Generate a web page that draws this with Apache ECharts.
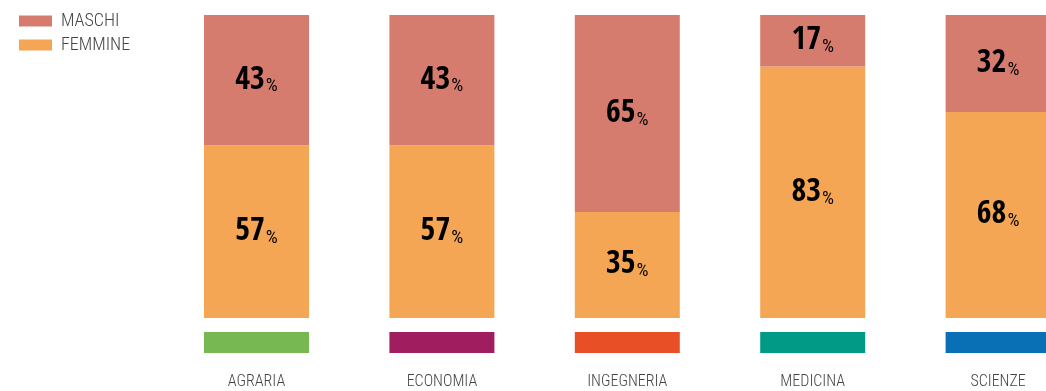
<!DOCTYPE html>
<html>
<head>
<meta charset="utf-8">
<script src="https://cdn.jsdelivr.net/npm/echarts@6/dist/echarts.min.js"></script>
<style>
  html, body { margin: 0; padding: 0; background: #fff; }
  #chart { width: 1046px; height: 391px; }
</style>
</head>
<body>
<div id="chart"></div>
<script>
// Share of students by gender in each school (percent)
const categories = ['AGRARIA', 'ECONOMIA', 'INGEGNERIA', 'MEDICINA', 'SCIENZE'];
const maschi = [43, 43, 65, 17, 32];
const femmine = [57, 57, 35, 83, 68];
const schoolColors = ['#77b852', '#a01d5f', '#e84f27', '#009a87', '#0a70b6'];

const NUM_FONT = "'Open Sans Condensed', 'Roboto Condensed', sans-serif";
const TXT_FONT = "'Roboto Condensed', 'Open Sans Condensed', sans-serif";
const COL_M = '#d67c6e';
const COL_F = '#f5a654';

const pctLabel = {
  show: true,
  position: 'inside',
  formatter: p => '{n|' + p.value + '}{p|%}',
  rich: {
    n: { fontFamily: NUM_FONT, fontWeight: 'bold', fontSize: 32, color: '#000', verticalAlign: 'bottom', lineHeight: 32 },
    p: { fontFamily: TXT_FONT, fontWeight: 'normal', fontSize: 19, color: '#000', verticalAlign: 'bottom', lineHeight: 27, padding: [0, 0, 0, 1] }
  }
};

const chart = echarts.init(document.getElementById('chart'));
chart.setOption({
  animation: false,
  legend: {
    data: ['MASCHI', 'FEMMINE'],
    orient: 'vertical',
    left: 14,
    top: 7,
    itemWidth: 33,
    itemHeight: 11,
    itemGap: 6,
    icon: 'rect',
    textStyle: { fontFamily: TXT_FONT, fontWeight: 300, fontSize: 18, color: '#444', padding: [0, 0, 0, 4] }
  },
  grid: [
    { left: 163.8, width: 927, top: 15, bottom: 73, outerBoundsMode: 'none' },
    { left: 163.8, width: 927, top: 332, height: 21, outerBoundsMode: 'none' }
  ],
  xAxis: [
    {
      type: 'category', gridIndex: 0, data: categories,
      axisLine: { show: false }, axisTick: { show: false }, axisLabel: { show: false }
    },
    {
      type: 'category', gridIndex: 1, data: categories,
      axisLine: { show: false }, axisTick: { show: false },
      axisLabel: { fontFamily: TXT_FONT, fontWeight: 300, fontSize: 16, color: '#444', margin: 21 }
    }
  ],
  yAxis: [
    { type: 'value', gridIndex: 0, min: 0, max: 100, show: false },
    { type: 'value', gridIndex: 1, min: 0, max: 1, show: false }
  ],
  series: [
    {
      name: 'FEMMINE', type: 'bar', stack: 'tot', data: femmine,
      barWidth: 105, itemStyle: { color: COL_F }, label: pctLabel,
      xAxisIndex: 0, yAxisIndex: 0
    },
    {
      name: 'MASCHI', type: 'bar', stack: 'tot', data: maschi,
      barWidth: 105, itemStyle: { color: COL_M }, label: pctLabel,
      xAxisIndex: 0, yAxisIndex: 0
    },
    {
      name: 'school', type: 'bar', xAxisIndex: 1, yAxisIndex: 1,
      barWidth: 105,
      data: categories.map((c, i) => ({ value: 1, itemStyle: { color: schoolColors[i] } }))
    }
  ]
});
</script>
</body>
</html>
